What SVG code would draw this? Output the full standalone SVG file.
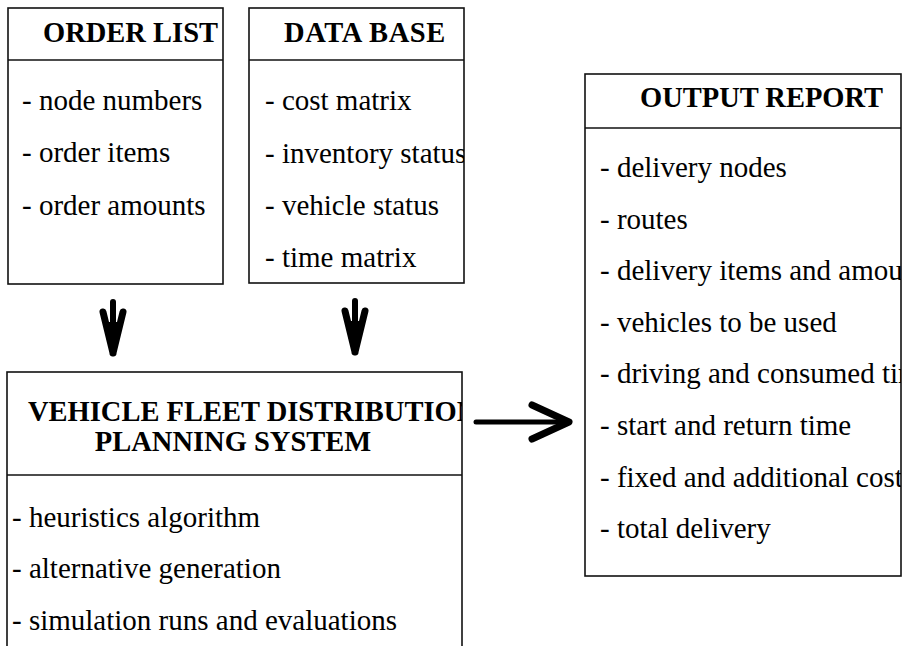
<svg xmlns="http://www.w3.org/2000/svg" width="906" height="646" viewBox="0 0 906 646">
  <style>
    .box { fill: #fff; stroke: #111; stroke-width: 1.6; }
    .rule { stroke: #111; stroke-width: 1.4; }
    .title { font-family: "Liberation Serif", "Times New Roman", serif; font-weight: bold; font-size: 28.5px; fill: #000; }
    .item { font-family: "Liberation Serif", "Times New Roman", serif; font-size: 29px; fill: #000; }
    .ink { stroke: #000; fill: none; stroke-linecap: round; stroke-linejoin: round; }
  </style>
  <defs>
    <clipPath id="clip-order"><rect x="8" y="8" width="215" height="276"/></clipPath>
    <clipPath id="clip-data"><rect x="249" y="8" width="215" height="275"/></clipPath>
    <clipPath id="clip-vfd"><rect x="7" y="372" width="455" height="280"/></clipPath>
    <clipPath id="clip-output"><rect x="585" y="74" width="316" height="502"/></clipPath>
    <!-- thick downward arrow, tip at origin -->
    <g id="down-arrow">
      <path class="ink" d="M0,-54 L0,-4" stroke-width="6"/>
      <path class="ink" d="M-10,-44 L0,-3 M10,-44 L0,-3" stroke-width="7"/>
      <path d="M-8,-34 L8,-34 L0,-2 Z" fill="#000"/>
    </g>
  </defs>
  <rect width="906" height="646" fill="#fff"/>

  <g id="order-list">
    <rect class="box" x="8" y="8" width="215" height="276"/>
    <line class="rule" x1="8" y1="60" x2="223" y2="60"/>
    <g clip-path="url(#clip-order)">
      <text class="title" x="43" y="42">ORDER LIST</text>
      <text class="item" x="22" y="110">- node numbers</text>
      <text class="item" x="22" y="162">- order items</text>
      <text class="item" x="22" y="215">- order amounts</text>
    </g>
  </g>

  <g id="data-base">
    <rect class="box" x="249" y="8" width="215" height="275"/>
    <line class="rule" x1="249" y1="60" x2="464" y2="60"/>
    <g clip-path="url(#clip-data)">
      <text class="title" x="284" y="42" letter-spacing="0.6">DATA BASE</text>
      <text class="item" x="265" y="110">- cost matrix</text>
      <text class="item" x="265" y="163">- inventory status</text>
      <text class="item" x="265" y="215">- vehicle status</text>
      <text class="item" x="265" y="267">- time matrix</text>
    </g>
  </g>

  <g id="planning-system">
    <rect class="box" x="7" y="372" width="455" height="290"/>
    <line class="rule" x1="7" y1="475" x2="462" y2="475"/>
    <g clip-path="url(#clip-vfd)">
      <text class="title" x="28" y="421" font-size="29">VEHICLE FLEET DISTRIBUTION</text>
      <text class="title" x="233" y="451" text-anchor="middle">PLANNING SYSTEM</text>
      <text class="item" x="12" y="527">- heuristics algorithm</text>
      <text class="item" x="12" y="578">- alternative generation</text>
      <text class="item" x="12" y="630">- simulation runs and evaluations</text>
    </g>
  </g>

  <g id="output-report">
    <rect class="box" x="585" y="74" width="316" height="502"/>
    <line class="rule" x1="585" y1="128" x2="901" y2="128"/>
    <g clip-path="url(#clip-output)">
      <text class="title" x="640" y="107">OUTPUT REPORT</text>
      <text class="item" x="600" y="177">- delivery nodes</text>
      <text class="item" x="600" y="229">- routes</text>
      <text class="item" x="600" y="280">- delivery items and amounts</text>
      <text class="item" x="600" y="332">- vehicles to be used</text>
      <text class="item" x="600" y="383">- driving and consumed time</text>
      <text class="item" x="600" y="435">- start and return time</text>
      <text class="item" x="600" y="487">- fixed and additional costs</text>
      <text class="item" x="600" y="538">- total delivery</text>
    </g>
  </g>

  <g id="connectors">
    <use href="#down-arrow" transform="translate(113,356)"/>
    <use href="#down-arrow" transform="translate(355,355)"/>
    <path class="ink" d="M476,422 L566,422" stroke-width="5"/>
    <path class="ink" d="M532,405 L569,422 L532,439" stroke-width="7"/>
  </g>
</svg>
